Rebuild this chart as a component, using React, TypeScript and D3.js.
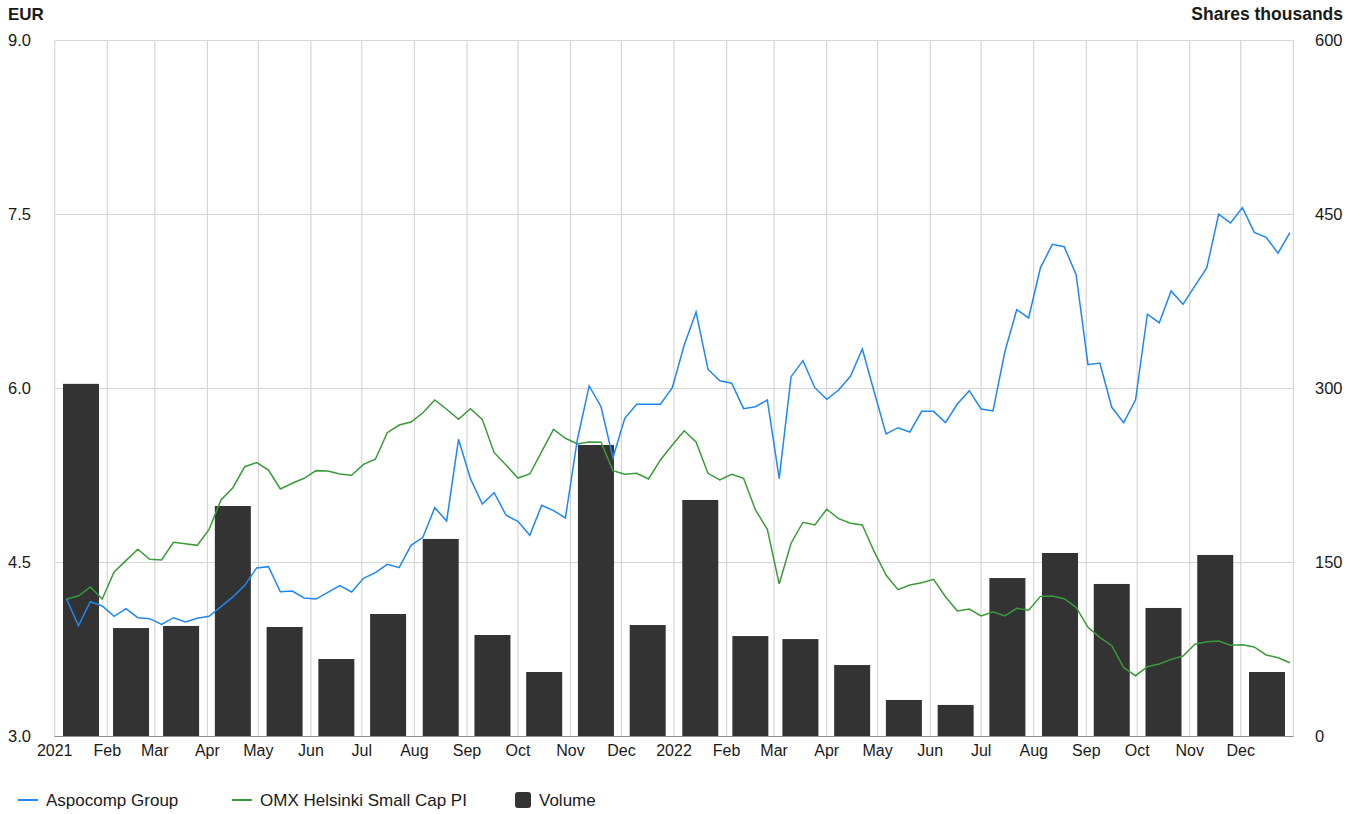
import React from "react";
import * as d3 from "d3";

// ---------- DATA ----------
const monthLabels = ["2021","Feb","Mar","Apr","May","Jun","Jul","Aug","Sep","Oct","Nov","Dec",
  "2022","Feb","Mar","Apr","May","Jun","Jul","Aug","Sep","Oct","Nov","Dec"];

const leftTicks = [3.0, 4.5, 6.0, 7.5, 9.0];
const rightTicks = [0, 150, 300, 450, 600];

// weekly closes, first week ending 2021-01-08
const aspocomp = [
  4.185, 3.955, 4.162, 4.125, 4.036, 4.102, 4.024, 4.016, 3.967, 4.024,
  3.987, 4.019, 4.036, 4.119, 4.203, 4.303, 4.453, 4.464, 4.248, 4.254,
  4.194, 4.185, 4.243, 4.300, 4.246, 4.364, 4.412, 4.484, 4.455, 4.648,
  4.717, 4.972, 4.858, 5.562, 5.223, 5.004, 5.102, 4.907, 4.855, 4.734,
  4.993, 4.947, 4.884, 5.556, 6.022, 5.843, 5.403, 5.743, 5.864, 5.864,
  5.864, 6.007, 6.372, 6.659, 6.166, 6.067, 6.045, 5.826, 5.843, 5.901,
  5.223, 6.102, 6.240, 6.007, 5.907, 5.987, 6.105, 6.341, 5.970, 5.608,
  5.662, 5.625, 5.803, 5.803, 5.706, 5.866, 5.981, 5.823, 5.806, 6.317,
  6.679, 6.608, 7.042, 7.243, 7.222, 6.981, 6.205, 6.220, 5.838, 5.706,
  5.901, 6.640, 6.567, 6.841, 6.726, 6.884, 7.039, 7.502, 7.427, 7.559,
  7.346, 7.303, 7.166, 7.343,
];

const omxSmallCap = [
  4.185, 4.211, 4.289, 4.185, 4.418, 4.516, 4.614, 4.527, 4.522, 4.674,
  4.662, 4.648, 4.786, 5.039, 5.145, 5.326, 5.361, 5.297, 5.134, 5.183,
  5.226, 5.292, 5.289, 5.263, 5.252, 5.346, 5.390, 5.619, 5.685, 5.711,
  5.791, 5.901, 5.821, 5.734, 5.826, 5.734, 5.447, 5.341, 5.228, 5.263,
  5.455, 5.648, 5.571, 5.522, 5.539, 5.536, 5.292, 5.260, 5.269, 5.220,
  5.384, 5.513, 5.636, 5.539, 5.269, 5.211, 5.260, 5.226, 4.953, 4.786,
  4.315, 4.666, 4.847, 4.823, 4.959, 4.878, 4.838, 4.823, 4.593, 4.392,
  4.266, 4.306, 4.326, 4.355, 4.205, 4.082, 4.099, 4.039, 4.076, 4.039,
  4.105, 4.088, 4.208, 4.211, 4.188, 4.114, 3.941, 3.855, 3.783, 3.593,
  3.524, 3.602, 3.625, 3.665, 3.694, 3.795, 3.817, 3.823, 3.786, 3.791,
  3.772, 3.703, 3.679, 3.636,
];

// monthly volume, thousands of shares
const volume = [
  304, 93.5, 95.3, 198.7, 94.4, 66.8, 105.6, 170.3, 87.5, 55.6, 251.3, 96.1,
  203.9, 86.6, 84.0, 61.6, 31.5, 27.2, 136.6, 158.2, 131.5, 110.8, 156.5, 55.6,
];

// ---------- LAYOUT ----------
const W = 1363, H = 814;
const X0 = 54.7, X1 = 1293.3, YT = 40.5, YB = 736.5;
const FONT = "Arial, 'Liberation Sans', Helvetica, sans-serif";
const BLUE = "#1e88f0";
const GREEN = "#3a9a3a";
const BAR = "#333333";
const GRID = "#d6d6d6";
const TEXT = "#1a1a1a";

export default function App() {
  const start = new Date(2021, 0, 1);
  const end = new Date(2023, 0, 1);
  const x = d3.scaleTime().domain([start, end]).range([X0, X1]);
  const yL = d3.scaleLinear().domain([3, 9]).range([YB, YT]);
  const yR = d3.scaleLinear().domain([0, 600]).range([YB, YT]);

  const months = d3.timeMonth.range(start, end);
  const firstWeek = new Date(2021, 0, 8);
  const weekDates = aspocomp.map((_, i) => d3.timeDay.offset(firstWeek, 7 * i));

  const line = d3.line<number>()
    .x((_, i) => x(weekDates[i]))
    .y((d) => yL(d));

  const barW = 36;

  return (
    <svg width={W} height={H} style={{ position: "absolute", left: 0, top: 0, display: "block" }}
      fontFamily={FONT}>
      <rect x={0} y={0} width={W} height={H} fill="#fff" />
      {/* titles */}
      <text x={8} y={20} fontSize={17} fontWeight="bold" fill={TEXT}>EUR</text>
      <text x={1343} y={20} fontSize={17.5} fontWeight="bold" fill={TEXT} textAnchor="end">Shares thousands</text>

      {/* horizontal grid */}
      {leftTicks.map((t) => (
        <line key={"h" + t} x1={X0} x2={X1} y1={yL(t)} y2={yL(t)} stroke={t === 3 ? "#8c8c8c" : GRID} strokeWidth={1.2} />
      ))}
      {/* vertical grid at month starts */}
      {[...months, end].map((m, i) => (
        <line key={"v" + i} x1={x(m)} x2={x(m)} y1={YT} y2={YB} stroke={GRID} strokeWidth={1.2} />
      ))}

      {/* volume bars */}
      {months.map((m, i) => {
        const next = d3.timeMonth.offset(m, 1);
        const cx = (x(m) + x(next)) / 2;
        return (
          <rect key={"b" + i} x={cx - barW / 2} y={yR(volume[i])} width={barW}
            height={YB - yR(volume[i])} fill={BAR} />
        );
      })}
      <line x1={X0} x2={X1} y1={YB} y2={YB} stroke="#8c8c8c" strokeWidth={1.2} />

      {/* lines */}
      <path d={line(omxSmallCap) || ""} fill="none" stroke={GREEN} strokeWidth={1.5} />
      <path d={line(aspocomp) || ""} fill="none" stroke={BLUE} strokeWidth={1.5} />

      {/* left axis labels */}
      {leftTicks.map((t) => (
        <text key={"l" + t} x={8} y={yL(t)} dy="0.35em" fontSize={16.5} fill={TEXT}>{t.toFixed(1)}</text>
      ))}
      {/* right axis labels */}
      {rightTicks.map((t) => (
        <text key={"r" + t} x={1315} y={yR(t)} dy="0.35em" fontSize={16.5} fill={TEXT}>{t}</text>
      ))}
      {/* x labels */}
      {months.map((m, i) => (
        <text key={"x" + i} x={x(m)} y={756} fontSize={16} fill={TEXT} textAnchor="middle">{monthLabels[i]}</text>
      ))}

      {/* legend */}
      <line x1={18} x2={38} y1={800} y2={800} stroke={BLUE} strokeWidth={2} />
      <text x={46} y={806} fontSize={17} fill={TEXT}>Aspocomp Group</text>
      <line x1={232} x2={252} y1={800} y2={800} stroke={GREEN} strokeWidth={2} />
      <text x={260} y={806} fontSize={17} fill={TEXT}>OMX Helsinki Small Cap PI</text>
      <rect x={515} y={792} width={16} height={16} rx={3} fill={BAR} />
      <text x={539} y={806} fontSize={17} fill={TEXT}>Volume</text>
    </svg>
  );
}
